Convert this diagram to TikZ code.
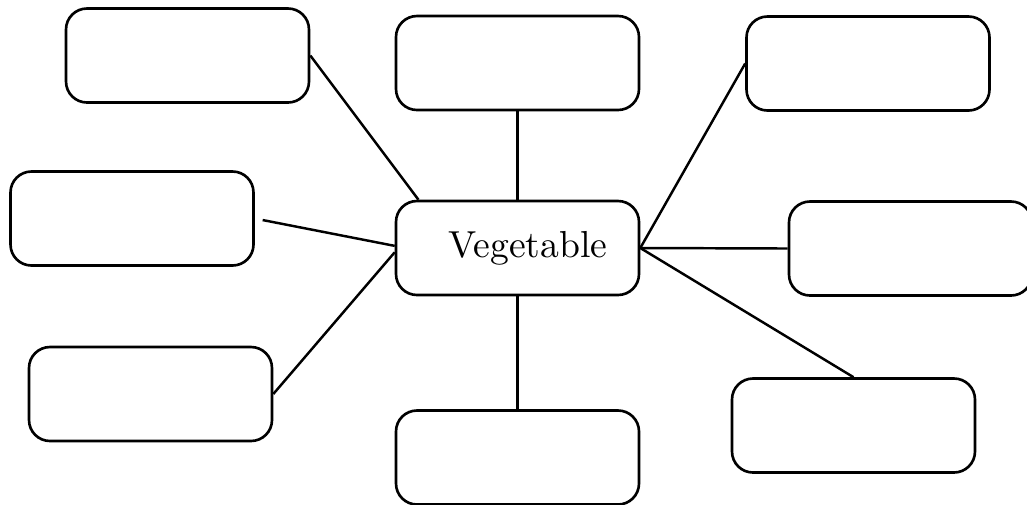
\documentclass[tikz,border=0pt]{standalone}
\usepackage{xcolor}

\begin{document}
\begin{tikzpicture}[x=1cm,y=1cm,
                    leaf/.style={shape=rectangle,rounded corners=0.21cm,draw=black,line width=0.75pt,minimum width=2.43cm,minimum height=0.94cm,inner sep=0pt},
                    link/.style={draw=black,line width=0.7pt}]
                    \useasboundingbox (0,0) rectangle (10.27,-5.04);
                    \node[leaf] (V) at (5.175,-2.48) {\fontsize{10.7}{13}\selectfont\hspace*{0.21cm}Vegetable};
                    \node[leaf] (TL) at (1.875,-0.555) {};
                    \node[leaf] (TC) at (5.175,-0.63) {};
                    \node[leaf] (TR) at (8.68,-0.635) {};
                    \node[leaf] (ML) at (1.32,-2.185) {};
                    \node[leaf] (MR) at (9.105,-2.485) {};
                    \node[leaf] (BL) at (1.505,-3.94) {};
                    \node[leaf] (BC) at (5.175,-4.575) {};
                    \node[leaf] (BR) at (8.535,-4.255) {};
                    
                    \draw[link] (TL.east) -- (V.154);
                    \draw[link] (TC) -- (V);
                    \draw[link] (TR.west) -- (V.east);
                    \draw[link,shorten <=0.08cm] (ML.east) -- (V.179);
                    \draw[link] (V.east) -- (MR.west);
                    \draw[link] (BL.east) -- (V.182);
                    \draw[link] (V) -- (BC);
                    \draw[link] (V.east) -- (BR.north);
                \end{tikzpicture}
\end{document}
